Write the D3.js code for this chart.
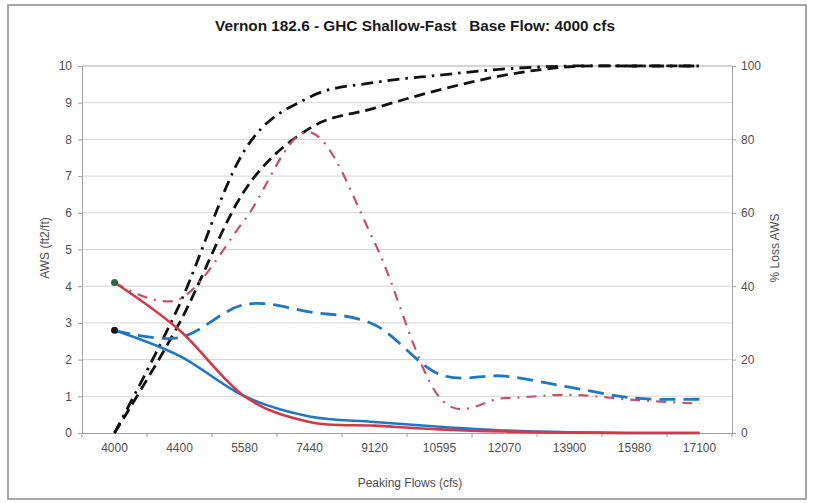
<!DOCTYPE html>
<html>
<head>
<meta charset="utf-8">
<script src="https://cdn.jsdelivr.net/npm/d3@7"></script>
<style>
  html, body { margin: 0; padding: 0; background: #fff; }
  svg { display: block; font-family: "Liberation Sans", Arial, sans-serif; }
</style>
</head>
<body>
<svg id="chart" width="818" height="503"></svg>
<script>
// ---- data ----
const categories = ["4000","4400","5580","7440","9120","10595","12070","13900","15980","17100"];
const awsRedSolid   = [4.1, 2.8, 1.0, 0.3, 0.2, 0.1, 0.04, 0.01, 0, 0];
const awsBlueSolid  = [2.8, 2.1, 1.0, 0.45, 0.3, 0.17, 0.07, 0.02, 0, 0];
const awsBlueDash   = [2.8, 2.6, 3.5, 3.3, 2.95, 1.6, 1.55, 1.25, 0.95, 0.92];
const awsRedDashDot = [4.1, 3.65, 5.8, 8.2, 5.2, 0.97, 0.95, 1.04, 0.9, 0.8];
const lossDashDot   = [0, 35, 77, 91.5, 95.5, 97.5, 99.2, 100, 100, 100];
const lossDashed    = [0, 30, 66, 83, 88.5, 93.5, 97.5, 99.8, 100, 100];
const leftTicks  = [0,1,2,3,4,5,6,7,8,9,10];
const rightTicks = [0,20,40,60,80,100];

const svg = d3.select("#chart");
const L = 82, R = 732, T = 66, B = 433;

// outer frame
svg.append("rect").attr("x", 8).attr("y", 5).attr("width", 798).attr("height", 494)
  .attr("fill", "#fff").attr("stroke", "#8a8a8a").attr("stroke-width", 1.5);

const x = d3.scaleBand().domain(categories).range([L, R]).padding(0);
const xc = c => x(c) + x.bandwidth() / 2;
const yL = d3.scaleLinear().domain([0, 10]).range([B, T]);
const yR = d3.scaleLinear().domain([0, 100]).range([B, T]);

// gridlines
svg.append("g").selectAll("line").data(leftTicks.filter(d => d > 0)).join("line")
  .attr("x1", L).attr("x2", R).attr("y1", d => yL(d)).attr("y2", d => yL(d))
  .attr("stroke", d => d === 10 ? "#a8a8a8" : "#d6d6d6").attr("stroke-width", 1);

// left axis
const gL = svg.append("g").attr("transform", `translate(${L},0)`)
  .call(d3.axisLeft(yL).tickValues(leftTicks).tickSize(4).tickPadding(6).tickFormat(d3.format("d")));
gL.select(".domain").attr("stroke", "#a0a0a0");
gL.selectAll(".tick line").attr("stroke", "#a0a0a0");
gL.selectAll(".tick text").attr("font-size", 12).attr("fill", "#505050");

// right axis
const gR = svg.append("g").attr("transform", `translate(${R},0)`)
  .call(d3.axisRight(yR).tickValues(rightTicks).tickSize(4).tickPadding(5).tickFormat(d3.format("d")));
gR.select(".domain").attr("stroke", "#a0a0a0");
gR.selectAll(".tick line").attr("stroke", "#a0a0a0");
gR.selectAll(".tick text").attr("font-size", 12).attr("fill", "#505050");

// bottom axis (labels at centers, ticks at boundaries)
const gB = svg.append("g").attr("transform", `translate(0,${B})`)
  .call(d3.axisBottom(x).tickSize(0).tickPadding(10));
gB.select(".domain").attr("stroke", "#a0a0a0");
gB.selectAll(".tick text").attr("font-size", 12).attr("fill", "#505050");
const bounds = categories.map(c => x(c)).concat([R]);
svg.append("g").selectAll("line").data(bounds).join("line")
  .attr("x1", d => d).attr("x2", d => d).attr("y1", B).attr("y2", B + 4)
  .attr("stroke", "#a0a0a0");

// series
const lineL = d3.line().x((d, i) => xc(categories[i])).y(d => yL(d)).curve(d3.curveCardinal.tension(0));
const lineR = d3.line().x((d, i) => xc(categories[i])).y(d => yR(d)).curve(d3.curveCardinal.tension(0));

const series = [
  { data: lossDashed,    line: lineR, color: "#111", width: 2.8, dash: "11,6" },
  { data: lossDashDot,   line: lineR, color: "#111", width: 2.8, dash: "12,6,2.5,6" },
  { data: awsRedDashDot, line: lineL, color: "#c8506c", width: 2.2, dash: "10,7,2,7" },
  { data: awsBlueDash,   line: lineL, color: "#1f78c6", width: 2.8, dash: "16,8" },
  { data: awsBlueSolid,  line: lineL, color: "#1f78c6", width: 2.6, dash: null },
  { data: awsRedSolid,   line: lineL, color: "#d23a48", width: 2.6, dash: null }
];
svg.append("g").selectAll("path").data(series).join("path")
  .attr("d", s => s.line(s.data))
  .attr("fill", "none")
  .attr("stroke", s => s.color)
  .attr("stroke-width", s => s.width)
  .attr("stroke-dasharray", s => s.dash)
  .attr("stroke-linecap", "butt");

// start markers
svg.append("circle").attr("cx", xc(categories[0])).attr("cy", yL(awsRedSolid[0])).attr("r", 3.5).attr("fill", "#2d6b45");
svg.append("circle").attr("cx", xc(categories[0])).attr("cy", yL(awsBlueSolid[0])).attr("r", 3.5).attr("fill", "#151515");

// titles
svg.append("text").attr("x", 415).attr("y", 31).attr("text-anchor", "middle")
  .attr("font-size", 14).attr("font-weight", "bold").attr("fill", "#1a1a1a")
  .attr("textLength", 400).attr("lengthAdjust", "spacingAndGlyphs")
  .style("white-space", "pre")
  .text("Vernon 182.6 - GHC Shallow-Fast   Base Flow: 4000 cfs");

svg.append("text").attr("transform", "translate(49,248) rotate(-90)").attr("text-anchor", "middle")
  .attr("font-size", 12).attr("fill", "#505050").text("AWS (ft2/ft)");
svg.append("text").attr("transform", "translate(779,248) rotate(-90)").attr("text-anchor", "middle")
  .attr("font-size", 12).attr("fill", "#505050").text("% Loss AWS");
svg.append("text").attr("x", 410).attr("y", 487).attr("text-anchor", "middle")
  .attr("font-size", 12).attr("fill", "#505050").text("Peaking Flows (cfs)");
</script>
</body>
</html>
